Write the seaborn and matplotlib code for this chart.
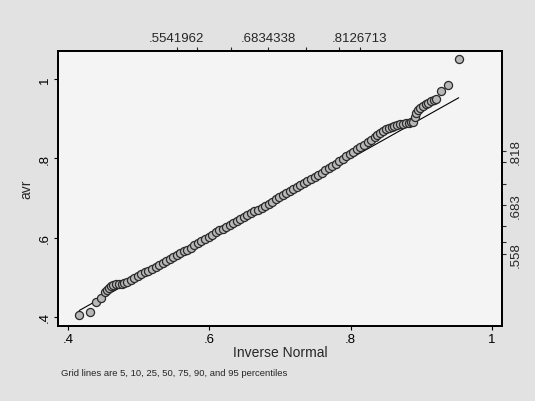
import matplotlib
matplotlib.use("Agg")
import matplotlib.pyplot as plt
import seaborn as sns
import pandas as pd

# qnorm of avr: inverse-normal quantile vs sorted avr
inv_normal = [0.416, 0.431, 0.440, 0.447,
              0.452, 0.455, 0.458, 0.461, 0.464, 0.468, 0.472, 0.476, 0.480, 0.484,
              0.489, 0.494, 0.499, 0.504, 0.509, 0.514, 0.519, 0.524, 0.529, 0.534,
              0.539, 0.544, 0.549, 0.554, 0.559, 0.564, 0.569, 0.574, 0.579, 0.584,
              0.589, 0.594, 0.599, 0.604, 0.609, 0.614, 0.619, 0.624, 0.629, 0.634,
              0.639, 0.644, 0.649, 0.654, 0.659, 0.664, 0.669, 0.674, 0.679, 0.684,
              0.689, 0.694, 0.699, 0.704, 0.709, 0.714, 0.719, 0.724, 0.729, 0.734,
              0.739, 0.744, 0.749, 0.754, 0.759, 0.764, 0.769, 0.774, 0.779, 0.784,
              0.789, 0.794, 0.799, 0.804, 0.809, 0.814, 0.819, 0.824, 0.829, 0.834,
              0.838, 0.842, 0.846, 0.850, 0.854, 0.858, 0.862, 0.866, 0.870, 0.874,
              0.878, 0.882, 0.886, 0.889, 0.891, 0.893, 0.895, 0.898, 0.902, 0.906,
              0.910, 0.914, 0.918, 0.921,
              0.928, 0.938, 0.953]
avr = [0.405, 0.413, 0.438, 0.448,
       0.463, 0.468, 0.473, 0.478, 0.481, 0.482, 0.483, 0.484, 0.486, 0.488,
       0.492, 0.497, 0.502, 0.507, 0.512, 0.516, 0.521, 0.526, 0.531, 0.535,
       0.540, 0.545, 0.550, 0.555, 0.560, 0.565, 0.570, 0.575, 0.581, 0.586,
       0.592, 0.597, 0.602, 0.607, 0.613, 0.619, 0.622, 0.626, 0.631, 0.636,
       0.641, 0.646, 0.651, 0.656, 0.661, 0.666, 0.671, 0.676, 0.681, 0.686,
       0.691, 0.697, 0.702, 0.707, 0.712, 0.717, 0.722, 0.727, 0.732, 0.737,
       0.742, 0.748, 0.753, 0.759, 0.764, 0.770, 0.776, 0.781, 0.787, 0.793,
       0.799, 0.805, 0.811, 0.817, 0.823, 0.829, 0.835, 0.841, 0.847, 0.853,
       0.858, 0.864, 0.869, 0.873, 0.876, 0.879, 0.882, 0.885, 0.887, 0.888,
       0.889, 0.890, 0.891, 0.893, 0.905, 0.915, 0.922, 0.927, 0.932, 0.937,
       0.941, 0.945, 0.948, 0.951,
       0.970, 0.985, 1.051]

x_ticks = [0.4, 0.6, 0.8, 1.0]
x_ticklabels = [".4", ".6", ".8", "1"]
y_ticks = [0.4, 0.6, 0.8, 1.0]
y_ticklabels = [".4", ".6", ".8", "1"]

# percentiles 5,10,25,50,75,90,95 (normal on top, data on right)
top_ticks = [0.5542, 0.5827, 0.6304, 0.6834, 0.7364, 0.7841, 0.8127]
top_ticklabels = [".5541962", "", "", ".6834338", "", "", ".8126713"]
right_ticks = [0.558, 0.588, 0.630, 0.683, 0.735, 0.792, 0.818]
right_ticklabels = [".558", "", "", ".683", "", "", ".818"]

df = pd.DataFrame({"inv": inv_normal, "avr": avr})
ref = pd.DataFrame({"x": [min(inv_normal), max(inv_normal)],
                    "y": [min(inv_normal), max(inv_normal)]})

sns.set_style("ticks")
plt.rcParams["font.family"] = ["Liberation Sans", "DejaVu Sans"]

fig = plt.figure(figsize=(5.35, 4.02), dpi=100, facecolor="#e2e2e2")
ax = fig.add_axes([0.1084, 0.1866, 0.8296, 0.684])
ax.set_facecolor("#f4f4f4")

sns.lineplot(data=ref, x="x", y="y", ax=ax, color="black", linewidth=0.8)
sns.scatterplot(data=df, x="inv", y="avr", ax=ax, s=34, color="#b8b8b8",
                edgecolor="#2a2a2a", linewidth=0.9, zorder=3)

xlim = (0.386, 1.014)
ylim = (0.377, 1.071)
ax.set_xlim(*xlim)
ax.set_ylim(*ylim)

ax.set_xticks(x_ticks)
ax.set_xticklabels(x_ticklabels, fontsize=9.5)
ax.set_yticks(y_ticks)
ax.set_yticklabels(y_ticklabels, fontsize=9.5, rotation=90, va="center")
ax.tick_params(direction="out", length=3, width=0.8, pad=2, colors="black")
ax.set_xlabel("Inverse Normal", fontsize=10, labelpad=0)
ax.set_ylabel("avr", fontsize=10, labelpad=4)

axt = ax.twiny()
axt.set_xlim(*xlim)
axt.set_xticks(top_ticks)
axt.set_xticklabels(top_ticklabels, fontsize=9.5)
axt.tick_params(direction="out", length=3, width=0.8, pad=2)

axr = ax.twinx()
axr.set_ylim(*ylim)
axr.set_yticks(right_ticks)
axr.set_yticklabels(right_ticklabels, fontsize=9.5, rotation=90, va="center")
axr.tick_params(direction="out", length=3, width=0.8, pad=3)

for a in (ax, axt, axr):
    for sp in a.spines.values():
        sp.set_visible(True)
        sp.set_color("black")
        sp.set_linewidth(1.1)

fig.text(0.114, 0.072, "Grid lines are 5, 10, 25, 50, 75, 90, and 95 percentiles",
         fontsize=6.8, ha="left", va="center")

fig.savefig("out.png", dpi=100, facecolor=fig.get_facecolor())
